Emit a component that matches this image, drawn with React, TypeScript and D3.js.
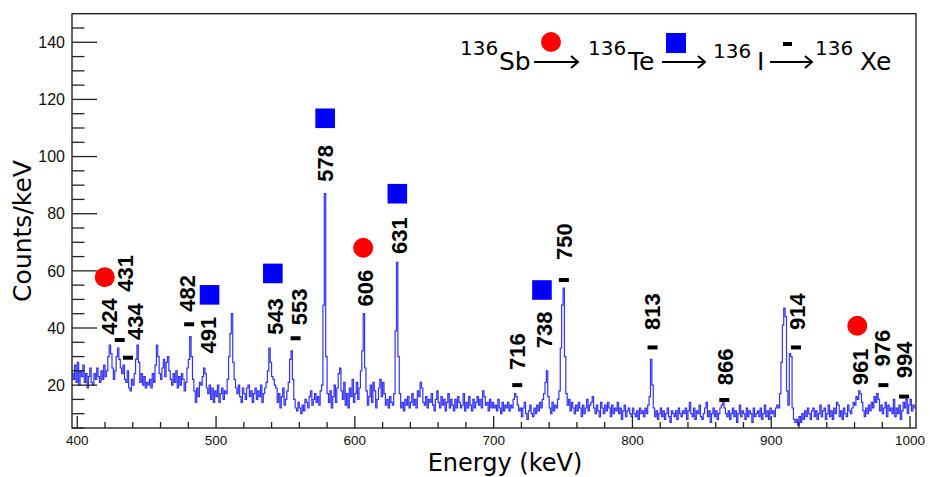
import React from 'react'
import * as d3 from 'd3'

// histogram: 1 keV bins starting at 396 keV
const binStart = 396
const counts = [
  24, 22, 27, 21,
  28, 20, 25, 23, 27, 21, 24, 19, 23, 26,
  21, 20, 24, 22, 26, 23, 21, 25, 22, 27,
  23, 25, 30, 34, 31, 26, 22, 25, 30, 33,
  29, 26, 24, 27, 22, 21, 25, 19, 18, 22,
  20, 24, 29, 34, 28, 21, 24, 20, 23, 19,
  21, 20, 22, 19, 24, 21, 27, 34, 30, 24,
  22, 26, 29, 23, 28, 30, 25, 22, 20, 24,
  21, 25, 19, 23, 20, 24, 22, 18, 21, 26,
  29, 37, 30, 22, 18, 14, 19, 16, 21, 20,
  23, 26, 24, 19, 17, 20, 15, 19, 14, 18,
  16, 20, 14, 17, 19, 15, 18, 17, 22, 30,
  38, 45, 28, 22, 19, 17, 20, 16, 14, 19,
  17, 15, 19, 20, 16, 18, 14, 17, 19, 15,
  18, 16, 20, 14, 17, 19, 21, 25, 33, 28,
  23, 22, 20, 19, 14, 17, 12, 16, 19, 13,
  15, 18, 21, 29, 32, 22, 15, 12, 11, 14,
  12, 10, 13, 11, 15, 14, 12, 16, 18, 13,
  15, 17, 14, 16, 13, 18, 20, 48, 87, 30,
  17, 14, 18, 12, 16, 20, 14, 19, 24, 26,
  18, 15, 21, 13, 17, 12, 19, 16, 22, 14,
  17, 21, 15, 19, 25, 32, 45, 26, 18, 13,
  16, 20, 14, 21, 18, 12, 15, 19, 22, 16,
  21, 17, 13, 15, 12, 16, 14, 13, 17, 39,
  63, 30, 17, 12, 14, 11, 15, 13, 16, 12,
  14, 17, 13, 15, 12, 18, 16, 21, 19, 14,
  13, 16, 12, 15, 14, 17, 13, 11, 15, 18,
  14, 12, 16, 13, 15, 11, 14, 17, 12, 15,
  13, 11, 15, 12, 16, 14, 12, 13, 17, 11,
  14, 12, 16, 13, 11, 15, 12, 14, 16, 13,
  15, 12, 18, 16, 13, 14, 11, 15, 12, 14,
  12, 13, 11, 15, 12, 10, 14, 11, 13, 12,
  14, 11, 13, 12, 15, 17, 16, 13, 11, 12,
  9, 12, 14, 10, 8, 11, 13, 10, 9, 12,
  10, 13, 11, 14, 12, 15, 17, 21, 25, 16,
  12, 10, 14, 11, 13, 12, 15, 18, 33, 48,
  54, 30, 17, 13, 15, 11, 14, 12, 10, 13,
  11, 14, 12, 9, 13, 10, 12, 15, 11, 13,
  14, 16, 12, 10, 13, 11, 9, 14, 12, 10,
  13, 11, 14, 12, 9, 13, 10, 12, 11, 14,
  10, 12, 8, 11, 13, 9, 11, 12, 10, 9,
  12, 10, 9, 11, 8, 12, 10, 11, 9, 12,
  10, 13, 16, 29, 20, 12, 9, 11, 8, 10,
  12, 9, 11, 8, 10, 12, 9, 7, 11, 10,
  9, 11, 8, 12, 10, 9, 11, 10, 12, 8,
  11, 14, 10, 9, 12, 8, 11, 10, 13, 9,
  8, 10, 12, 14, 9, 11, 7, 10, 12, 9,
  11, 8, 10, 12, 13, 15, 12, 10, 9, 11,
  8, 10, 12, 9, 11, 7, 10, 13, 9, 11,
  10, 8, 12, 9, 11, 10, 7, 12, 9, 10,
  11, 9, 12, 8, 10, 13, 9, 11, 8, 12,
  10, 11, 9, 12, 13, 12, 17, 28, 41, 47,
  44, 18, 13, 31, 30, 12, 8, 7, 8, 6,
  9, 7, 10, 8, 11, 9, 12, 10, 8, 11,
  12, 9, 11, 8, 10, 13, 9, 11, 12, 8,
  10, 13, 9, 11, 8, 12, 10, 14, 13, 9,
  11, 8, 12, 10, 9, 13, 11, 10, 12, 14,
  13, 16, 15, 18, 17, 14, 11, 9, 12, 10,
  13, 11, 14, 12, 16, 14, 17, 15, 11, 13,
  10, 12, 14, 9, 13, 11, 12, 10, 15, 9,
  12, 10, 13, 8, 11, 14, 12, 15, 10, 13,
  15, 11, 13, 12
]

// gamma lines: label, decay step (Sb = circle, Te = square, I = dash)
const lineLabels = ['424', '431', '434', '482', '491', '543', '553', '578', '606', '631',
  '716', '738', '750', '813', '866', '914', '961', '976', '994']
const lineKinds = ['Sb', 'I', 'I', 'I', 'Te', 'Te', 'I', 'Te', 'Sb', 'Te',
  'I', 'Te', 'I', 'I', 'I', 'I', 'Sb', 'I', 'I']
// where the label sits (energy of its centre, counts at its lower end)
const labelE = [422.5, 434.5, 441.7, 478.9, 494, 542.3, 559.4, 578.6, 607.4, 631.5,
  716.8, 736, 750.4, 814, 866.9, 918.6, 964.2, 979.8, 995.5]
const labelC = [37.6, 52.7, 35.8, 45.7, 31.1, 37.6, 41.0, 91.2, 47.5, 65.9,
  25.3, 32.9, 63.8, 39.3, 20.0, 39.3, 20.0, 26.5, 22.4]
// where the marker sits
const markE = [419.8, 430.6, 436.5, 480.6, 495.3, 540.9, 557.3, 578.6, 606.0, 630.6,
  717, 734.8, 750.6, 814.5, 866.2, 917.8, 962.0, 980.8, 995.7]
const markC = [57.8, 35.8, 29.6, 41.3, 51.6, 59.1, 36.4, 113.4, 68.1, 87.0,
  20.0, 53.3, 56.8, 33.2, 14.8, 33.2, 40.8, 20.0, 16.0]

const W = 930
const H = 477
const plot = { left: 72, right: 916, top: 13.7, bottom: 428 }
const sans = '"Liberation Sans", Arial, Helvetica, sans-serif'
const dejavu = '"DejaVu Sans", sans-serif'

const Arrow = ({ x1, x2, y }: { x1: number; x2: number; y: number }) => (
  <g stroke='#000' strokeWidth={2} fill='none'>
    <line x1={x1} x2={x2} y1={y} y2={y} />
    <path d={`M${x2 - 7},${y - 6} L${x2},${y} L${x2 - 7},${y + 6}`} />
  </g>
)

export default function App() {
  const x = d3.scaleLinear().domain([396.2, 1004.3]).range([plot.left, plot.right])
  const y = d3.scaleLinear().domain([5, 150]).range([plot.bottom, plot.top])

  const pts: [number, number][] = counts.map((c, i) => [binStart + i, c])
  pts.push([binStart + counts.length, counts[counts.length - 1]])
  const hist = d3
    .line<[number, number]>()
    .x(d => x(d[0]))
    .y(d => y(d[1]))
    .curve(d3.curveStepAfter)(pts)

  const xMajor = x.ticks(7)
  const xMinor = x.ticks(30).filter(t => !xMajor.includes(t))
  const yMajor = y.ticks(7)
  const yMinor = y.ticks(30).filter(t => !yMajor.includes(t) && t < 150)

  return (
    <svg width={W} height={H} style={{ position: 'absolute', left: 0, top: 0, background: '#fff' }}>
      <defs>
        <clipPath id='plotClip'>
          <rect x={plot.left} y={plot.top} width={plot.right - plot.left} height={plot.bottom - plot.top} />
        </clipPath>
      </defs>

      <path d={hist || ''} fill='none' stroke='#3333ff' strokeWidth={1.2} clipPath='url(#plotClip)' />

      {/* frame */}
      <rect x={plot.left} y={plot.top} width={plot.right - plot.left} height={plot.bottom - plot.top}
        fill='none' stroke='#000' strokeWidth={1.2} />

      {/* ticks, pointing inwards */}
      <g stroke='#222' strokeWidth={1.3}>
        {xMajor.map(t => (
          <line key={'xM' + t} x1={x(t)} x2={x(t)} y1={plot.bottom} y2={plot.bottom - 12} />
        ))}
        {xMinor.map(t => (
          <line key={'xm' + t} x1={x(t)} x2={x(t)} y1={plot.bottom} y2={plot.bottom - 6} />
        ))}
        {yMajor.map(t => (
          <line key={'yM' + t} x1={plot.left} x2={plot.left + 25} y1={y(t)} y2={y(t)} />
        ))}
        {yMinor.map(t => (
          <line key={'ym' + t} x1={plot.left} x2={plot.left + 12.5} y1={y(t)} y2={y(t)} />
        ))}
      </g>

      {xMajor.map(t => (
        <text key={'xl' + t} x={x(t)} y={445} textAnchor='middle' fontFamily={sans} fontSize={13.5} fill='#111'>
          {t}
        </text>
      ))}
      {yMajor.map(t => (
        <text key={'yl' + t} x={65} y={y(t)} dy='0.36em' textAnchor='end' fontFamily={sans} fontSize={16} fill='#111'>
          {t}
        </text>
      ))}

      <text x={505} y={471} textAnchor='middle' fontFamily={dejavu} fontSize={24} fill='#000'>
        Energy (keV)
      </text>
      <text transform='translate(31,231) rotate(-90)' textAnchor='middle' fontFamily={dejavu} fontSize={25} fill='#000'>
        Counts/keV
      </text>

      {/* markers */}
      {lineKinds.map((k, i) => {
        const mx = x(markE[i])
        const my = y(markC[i])
        if (k === 'Sb') return <circle key={'m' + i} cx={mx} cy={my} r={10} fill='#ff0000' />
        if (k === 'Te')
          return <rect key={'m' + i} x={mx - 9.8} y={my - 9.8} width={19.6} height={19.6} fill='#0000ff' />
        return <rect key={'m' + i} x={mx - 5} y={my - 2} width={10} height={4} fill='#000' />
      })}

      {/* line labels */}
      {lineLabels.map((l, i) => (
        <text key={'l' + i} transform={`translate(${x(labelE[i]) + 8},${y(labelC[i])}) rotate(-90)`}
          fontFamily={sans} fontWeight='bold' fontSize={22} fill='#000'>
          {l}
        </text>
      ))}

      {/* decay chain */}
      <g fontFamily={dejavu} fill='#000'>
        <text x={460} y={55} fontSize={20}>136</text>
        <text x={499} y={70} fontSize={25}>Sb</text>
        <text x={588} y={55} fontSize={20}>136</text>
        <text x={628} y={70} fontSize={25}>Te</text>
        <text x={713} y={58} fontSize={20}>136</text>
        <text x={757} y={70} fontSize={25}>I</text>
        <text x={815} y={55} fontSize={20}>136</text>
        <text x={860} y={70} fontSize={25}>Xe</text>
      </g>
      <Arrow x1={534} x2={578} y={62} />
      <circle cx={551} cy={42} r={10} fill='#ff0000' />
      <Arrow x1={662} x2={705} y={62} />
      <rect x={666} y={33} width={20} height={20} fill='#0000ff' />
      <Arrow x1={770} x2={812} y={62} />
      <rect x={783} y={42} width={9} height={4} fill='#000' />
    </svg>
  )
}
